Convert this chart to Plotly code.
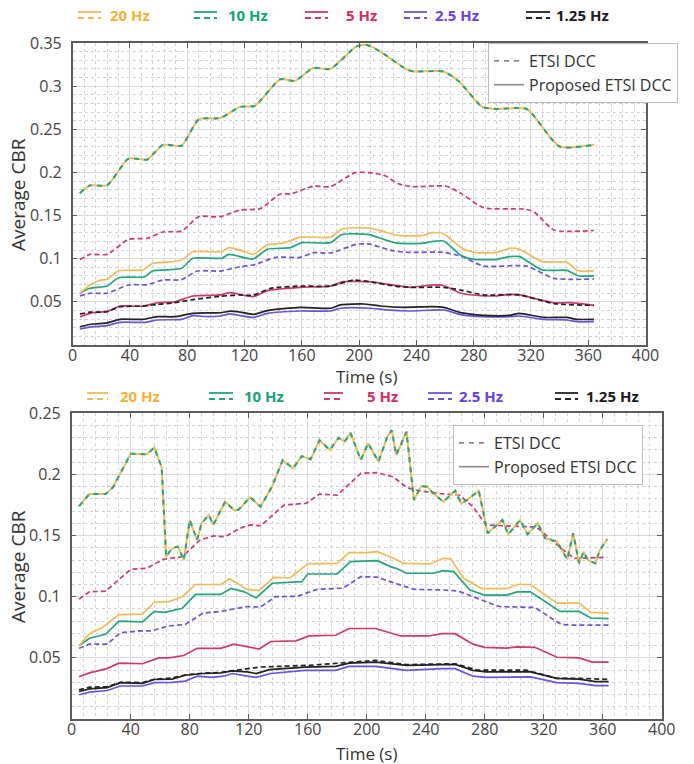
import plotly.graph_objects as go

W, H = 694, 764

# ---------------- data: top panel ----------------
top_etsi_20_10_t = [5, 12, 24, 39, 52, 63, 76, 88, 103, 117, 127, 145, 155, 168, 180, 198, 205, 214, 233, 238, 259, 270, 286, 296, 317, 340, 364]
top_etsi_20_10_v = [0.176, 0.185, 0.185, 0.216, 0.215, 0.232, 0.231, 0.2615, 0.263, 0.276, 0.277, 0.308, 0.306, 0.321, 0.320, 0.346, 0.348, 0.341, 0.3195, 0.317, 0.317, 0.305, 0.276, 0.2735, 0.2735, 0.230, 0.232]

top_etsi_5_t = [5, 12, 24, 39, 52, 63, 76, 88, 103, 117, 131, 145, 152, 168, 180, 197, 207, 217, 228, 237, 261, 271, 287, 315, 322, 336, 364]
top_etsi_5_v = [0.099, 0.105, 0.105, 0.1225, 0.1235, 0.131, 0.132, 0.1487, 0.1487, 0.1565, 0.158, 0.175, 0.175, 0.184, 0.1835, 0.1997, 0.1997, 0.197, 0.1866, 0.1835, 0.184, 0.1758, 0.159, 0.1576, 0.1545, 0.1333, 0.1327]

top_etsi_2p5_t = [5, 12, 24, 39, 52, 63, 76, 87, 103, 117, 126, 142, 159, 168, 180, 198, 207, 224, 236, 259, 271, 287, 317, 336, 364]
top_etsi_2p5_v = [0.057, 0.060, 0.060, 0.0695, 0.070, 0.0753, 0.0757, 0.0857, 0.0857, 0.0908, 0.0927, 0.1016, 0.1016, 0.107, 0.1066, 0.1167, 0.117, 0.109, 0.1074, 0.1074, 0.103, 0.0915, 0.0915, 0.0773, 0.0765]

top_etsi_1p25_t = [5, 12, 24, 33, 49, 59, 71, 84, 103, 117, 126, 138, 159, 180, 196, 207, 226, 236, 259, 271, 287, 312, 336, 364]
top_etsi_1p25_v = [0.036, 0.038, 0.0385, 0.0444, 0.045, 0.047, 0.049, 0.0526, 0.0564, 0.058, 0.0576, 0.0657, 0.0683, 0.0683, 0.0753, 0.0734, 0.068, 0.0668, 0.0668, 0.0637, 0.058, 0.058, 0.048, 0.046]

top_prop_20_t = [5, 12, 19, 24, 32, 49, 56, 66, 76, 84, 104, 109, 119, 126, 136, 147, 159, 180, 188, 207, 218, 227, 245, 250, 259, 271, 280, 296, 305, 312, 328, 345, 353, 364]
top_prop_20_v = [0.060, 0.0695, 0.075, 0.076, 0.086, 0.087, 0.0947, 0.096, 0.0985, 0.108, 0.108, 0.1128, 0.109, 0.105, 0.116, 0.118, 0.125, 0.125, 0.1345, 0.1356, 0.131, 0.127, 0.127, 0.130, 0.129, 0.113, 0.1074, 0.1074, 0.112, 0.111, 0.0966, 0.0958, 0.086, 0.0858]

top_prop_10_t = [5, 12, 24, 32, 50, 56, 66, 76, 84, 104, 109, 119, 126, 136, 152, 160, 180, 188, 207, 217, 227, 245, 250, 259, 271, 280, 296, 305, 312, 328, 345, 353, 364]
top_prop_10_v = [0.060, 0.0657, 0.0684, 0.078, 0.079, 0.086, 0.087, 0.0889, 0.1005, 0.1005, 0.105, 0.1016, 0.0997, 0.111, 0.1128, 0.1186, 0.1186, 0.128, 0.128, 0.1225, 0.118, 0.118, 0.1197, 0.1205, 0.104, 0.0993, 0.0993, 0.1024, 0.1024, 0.0869, 0.0865, 0.0803, 0.080]

top_prop_5_t = [5, 14, 24, 33, 49, 59, 71, 84, 103, 110, 126, 136, 159, 180, 189, 207, 219, 236, 250, 259, 271, 287, 296, 305, 312, 336, 347, 364]
top_prop_5_v = [0.0328, 0.0375, 0.039, 0.045, 0.045, 0.049, 0.050, 0.0568, 0.058, 0.0606, 0.056, 0.063, 0.0668, 0.0683, 0.0734, 0.0734, 0.0707, 0.0668, 0.0695, 0.069, 0.060, 0.057, 0.057, 0.0587, 0.058, 0.049, 0.049, 0.046]

top_prop_1p25_t = [5, 14, 24, 33, 49, 59, 71, 84, 103, 110, 117, 126, 136, 159, 180, 187, 203, 215, 231, 250, 259, 271, 287, 305, 312, 329, 345, 352, 364]
top_prop_1p25_v = [0.0212, 0.0243, 0.0256, 0.0297, 0.0297, 0.0328, 0.0328, 0.0367, 0.0374, 0.0392, 0.038, 0.0355, 0.0398, 0.0437, 0.0426, 0.0464, 0.0475, 0.0452, 0.0437, 0.0444, 0.0437, 0.0375, 0.0344, 0.0344, 0.0367, 0.032, 0.032, 0.0297, 0.0297]

top_prop_2p5_t = [5, 14, 24, 33, 51, 59, 76, 84, 94, 103, 110, 126, 136, 159, 180, 187, 207, 219, 236, 259, 271, 287, 305, 312, 329, 345, 352, 364]
top_prop_2p5_v = [0.0185, 0.0212, 0.0224, 0.0263, 0.0263, 0.029, 0.0297, 0.034, 0.0328, 0.0336, 0.036, 0.032, 0.0367, 0.0394, 0.0394, 0.0426, 0.0426, 0.0406, 0.0394, 0.0406, 0.0352, 0.0328, 0.0328, 0.0336, 0.0297, 0.029, 0.027, 0.027]

# ---------------- data: bottom panel ----------------
bot_etsi_20_10_t = [5, 12, 23, 28, 40, 51, 56, 61, 64, 68, 72, 76, 80, 85, 88, 93, 96, 104, 110, 113, 121, 128, 136, 143, 150, 156, 162, 168, 175, 181, 185, 189, 196, 201, 208, 214, 217, 220, 227, 232, 237, 241, 245, 252, 260, 264, 268, 276, 282, 292, 296, 304, 309, 316, 321, 329, 336, 340, 344, 347, 350, 355, 358, 363]
bot_etsi_20_10_v = [0.174, 0.184, 0.184, 0.1895, 0.217, 0.2165, 0.222, 0.206, 0.1327, 0.1396, 0.141, 0.130, 0.1627, 0.1464, 0.160, 0.1668, 0.1587, 0.1777, 0.171, 0.171, 0.1813, 0.1736, 0.1905, 0.2118, 0.205, 0.215, 0.2124, 0.228, 0.220, 0.230, 0.2268, 0.234, 0.2118, 0.2255, 0.2104, 0.2309, 0.2363, 0.2159, 0.235, 0.179, 0.1905, 0.190, 0.1846, 0.1777, 0.1867, 0.1764, 0.179, 0.1867, 0.1519, 0.1627, 0.151, 0.1627, 0.151, 0.160, 0.1478, 0.145, 0.1306, 0.1519, 0.1273, 0.1368, 0.130, 0.1273, 0.138, 0.147]

bot_etsi_5_t = [5, 12, 23, 40, 51, 62, 75, 87, 96, 104, 114, 121, 128, 144, 159, 168, 180, 196, 207, 218, 227, 232, 252, 263, 272, 281, 293, 315, 324, 336, 341, 363]
bot_etsi_5_v = [0.098, 0.104, 0.1045, 0.1224, 0.1233, 0.1306, 0.1327, 0.1464, 0.1497, 0.149, 0.156, 0.1587, 0.158, 0.175, 0.1764, 0.184, 0.183, 0.2009, 0.2015, 0.198, 0.1895, 0.1873, 0.184, 0.183, 0.1736, 0.1587, 0.158, 0.157, 0.1478, 0.1355, 0.1314, 0.1322]

bot_etsi_2p5_t = [5, 12, 24, 33, 47, 54, 65, 77, 89, 101, 119, 128, 138, 153, 166, 184, 196, 207, 218, 232, 252, 262, 278, 290, 314, 332, 341, 364]
bot_etsi_2p5_v = [0.0578, 0.0612, 0.0612, 0.0706, 0.072, 0.072, 0.076, 0.0773, 0.0866, 0.088, 0.092, 0.0915, 0.100, 0.1003, 0.106, 0.107, 0.1164, 0.116, 0.1115, 0.106, 0.1055, 0.1047, 0.0973, 0.092, 0.0912, 0.0773, 0.0767, 0.0767]

bot_etsi_1p25_t = [5, 12, 24, 33, 48, 56, 68, 77, 89, 101, 109, 128, 161, 188, 206, 227, 251, 260, 275, 308, 329, 345, 364]
bot_etsi_1p25_v = [0.0238, 0.026, 0.0265, 0.030, 0.0298, 0.0325, 0.0335, 0.036, 0.0375, 0.038, 0.0395, 0.0425, 0.0439, 0.0465, 0.0479, 0.0445, 0.0447, 0.0452, 0.040, 0.040, 0.0332, 0.0332, 0.0324]

bot_prop_20_t = [5, 12, 21, 32, 48, 56, 66, 75, 84, 101, 107, 119, 127, 137, 148, 160, 180, 188, 200, 207, 216, 225, 243, 252, 257, 266, 278, 295, 302, 311, 329, 344, 352, 364]
bot_prop_20_v = [0.060, 0.0698, 0.075, 0.0853, 0.0858, 0.0955, 0.096, 0.100, 0.110, 0.110, 0.1147, 0.106, 0.105, 0.1159, 0.1153, 0.1268, 0.1273, 0.136, 0.136, 0.1368, 0.1327, 0.1273, 0.1268, 0.1314, 0.131, 0.1147, 0.1067, 0.1067, 0.110, 0.110, 0.0947, 0.0947, 0.0872, 0.0866]

bot_prop_10_t = [5, 12, 23, 32, 48, 56, 63, 75, 84, 101, 108, 117, 125, 136, 156, 160, 180, 189, 207, 216, 220, 227, 245, 252, 259, 270, 280, 295, 302, 311, 331, 344, 352, 364]
bot_prop_10_v = [0.060, 0.066, 0.0693, 0.080, 0.0794, 0.088, 0.0872, 0.0906, 0.1019, 0.1019, 0.1067, 0.104, 0.099, 0.111, 0.1123, 0.1186, 0.1186, 0.1287, 0.1295, 0.1246, 0.1232, 0.1192, 0.1192, 0.1213, 0.1205, 0.1055, 0.1013, 0.1013, 0.104, 0.104, 0.088, 0.088, 0.0826, 0.0821]

bot_prop_5_t = [5, 12, 24, 32, 48, 59, 66, 76, 85, 101, 110, 119, 127, 135, 152, 161, 179, 188, 206, 223, 242, 251, 260, 272, 280, 295, 302, 314, 329, 344, 353, 364]
bot_prop_5_v = [0.0345, 0.0377, 0.0412, 0.0457, 0.0452, 0.050, 0.050, 0.0519, 0.0578, 0.0578, 0.0612, 0.059, 0.0572, 0.0634, 0.0639, 0.0679, 0.0685, 0.074, 0.074, 0.0679, 0.0679, 0.0698, 0.0698, 0.0612, 0.0586, 0.058, 0.059, 0.0586, 0.0505, 0.050, 0.0465, 0.0465]

bot_prop_1p25_t = [5, 12, 24, 33, 48, 56, 68, 77, 89, 101, 109, 119, 125, 134, 158, 179, 188, 206, 227, 251, 260, 272, 281, 311, 329, 344, 355, 364]
bot_prop_1p25_v = [0.0225, 0.0246, 0.0257, 0.0297, 0.0291, 0.0323, 0.0326, 0.0358, 0.0372, 0.0377, 0.0393, 0.0385, 0.0372, 0.0404, 0.0425, 0.043, 0.0457, 0.0465, 0.0439, 0.0447, 0.0447, 0.0398, 0.0385, 0.0385, 0.0332, 0.0326, 0.0305, 0.0305]

bot_prop_2p5_t = [5, 12, 24, 33, 48, 56, 68, 77, 85, 95, 103, 109, 119, 125, 135, 158, 179, 188, 206, 227, 251, 260, 272, 281, 311, 329, 344, 355, 364]
bot_prop_2p5_v = [0.0198, 0.022, 0.0233, 0.027, 0.027, 0.0297, 0.030, 0.031, 0.035, 0.034, 0.035, 0.0372, 0.035, 0.034, 0.0372, 0.0398, 0.0398, 0.043, 0.043, 0.0398, 0.0412, 0.0412, 0.035, 0.034, 0.0345, 0.0297, 0.0291, 0.0273, 0.0273]

# ---------------- labels ----------------
freq_labels = ["20 Hz", "10 Hz", "5 Hz", "2.5 Hz", "1.25 Hz"]
method_labels = ["ETSI DCC", "Proposed ETSI DCC"]
x_ticks = [0, 40, 80, 120, 160, 200, 240, 280, 320, 360, 400]
y_ticks_top = [0.05, 0.1, 0.15, 0.2, 0.25, 0.3, 0.35]
y_ticks_bot = [0.05, 0.1, 0.15, 0.2, 0.25]

# ---------------- styles ----------------
C_OR = "#f1bb55"
C_GR = "#20a77f"
C_RD = "#d1386c"
C_PU = "#6b52e3"
C_BK = "#222222"
TXT = {"20 Hz": "#f5b236", "10 Hz": "#12a478", "5 Hz": "#dc2a60", "2.5 Hz": "#6640ee", "1.25 Hz": "#1a1a1a"}
LCOL = {"20 Hz": C_OR, "10 Hz": C_GR, "5 Hz": C_RD, "2.5 Hz": C_PU, "1.25 Hz": C_BK}
DASH = "5px,3px"
FONT = "Open Sans"

fig = go.Figure()


def add(t, v, color, dash, ax, width=1.7, shape="linear"):
    xa, ya = ("x", "y") if ax == 1 else ("x2", "y2")
    line = dict(color=color, width=width, dash=dash)
    if shape == "spline":
        line.update(shape="spline", smoothing=0.6)
    fig.add_trace(go.Scatter(x=t, y=v, mode="lines", line=line, xaxis=xa, yaxis=ya,
                             showlegend=False, hoverinfo="skip"))


# top panel
S = "spline"
add(top_prop_2p5_t, top_prop_2p5_v, C_PU, "solid", 1, shape=S)
add(top_prop_1p25_t, top_prop_1p25_v, C_BK, "solid", 1, shape=S)
add(top_prop_5_t, top_prop_5_v, C_RD, "solid", 1, shape=S)
add(top_etsi_1p25_t, top_etsi_1p25_v, C_BK, DASH, 1, shape=S)
add(top_etsi_2p5_t, top_etsi_2p5_v, C_PU, DASH, 1, shape=S)
add(top_prop_10_t, top_prop_10_v, C_GR, "solid", 1, shape=S)
add(top_prop_20_t, top_prop_20_v, C_OR, "solid", 1, shape=S)
add(top_etsi_5_t, top_etsi_5_v, C_RD, DASH, 1, shape=S)
add(top_etsi_20_10_t, top_etsi_20_10_v, C_OR, "solid", 1, width=2, shape=S)
add(top_etsi_20_10_t, top_etsi_20_10_v, C_GR, "5px,5px", 1, width=2, shape=S)

# bottom panel
add(bot_prop_2p5_t, bot_prop_2p5_v, C_PU, "solid", 2)
add(bot_prop_1p25_t, bot_prop_1p25_v, C_BK, "solid", 2)
add(bot_etsi_1p25_t, bot_etsi_1p25_v, C_BK, DASH, 2)
add(bot_prop_5_t, bot_prop_5_v, C_RD, "solid", 2)
add(bot_etsi_2p5_t, bot_etsi_2p5_v, C_PU, DASH, 2)
add(bot_prop_10_t, bot_prop_10_v, C_GR, "solid", 2)
add(bot_prop_20_t, bot_prop_20_v, C_OR, "solid", 2)
add(bot_etsi_5_t, bot_etsi_5_v, C_RD, DASH, 2)
add(bot_etsi_20_10_t, bot_etsi_20_10_v, C_OR, "solid", 2, width=2)
add(bot_etsi_20_10_t, bot_etsi_20_10_v, C_GR, "5px,5px", 2, width=2)

# method legends (boxed)
for lg, xa, ya in (("legend", "x", "y"), ("legend2", "x2", "y2")):
    fig.add_trace(go.Scatter(x=[None], y=[None], mode="lines", name=method_labels[0],
                             line=dict(color="#8a8a8a", width=1.6, dash="5px,5px"),
                             xaxis=xa, yaxis=ya, legend=lg, showlegend=True))
    fig.add_trace(go.Scatter(x=[None], y=[None], mode="lines", name=method_labels[1],
                             line=dict(color="#8a8a8a", width=1.6),
                             xaxis=xa, yaxis=ya, legend=lg, showlegend=True))

AXC = "#5c5c5c"
GRID_MAJ = "#dadada"
GRID_MIN = "#d2d2d2"


def xax(dom, anchor):
    return dict(domain=dom, anchor=anchor, range=[0, 400], tickvals=x_ticks, automargin=False,
                ticklabelstandoff=-5,
                showline=True, linecolor=AXC, linewidth=1.5, mirror="ticks",
                ticks="inside", ticklen=5, tickcolor=AXC,
                showgrid=True, gridcolor=GRID_MAJ, gridwidth=1, zeroline=False,
                tickfont=dict(family=FONT, size=16, color="#444"),
                minor=dict(tick0=0, dtick=8, showgrid=True, gridcolor=GRID_MIN,
                           griddash="dot", gridwidth=1))


def yax(dom, anchor, rng, tv):
    return dict(domain=dom, anchor=anchor, range=rng, tickvals=tv, automargin=False,
                ticktext=[("%g" % t) for t in tv], ticklabelstandoff=6,
                showline=True, linecolor=AXC, linewidth=1.5, mirror="ticks",
                ticks="inside", ticklen=5, tickcolor=AXC,
                showgrid=True, gridcolor=GRID_MAJ, gridwidth=1, zeroline=False,
                tickfont=dict(family=FONT, size=16, color="#444"),
                minor=dict(tick0=0, dtick=0.01, showgrid=True, gridcolor=GRID_MIN,
                           griddash="dot", gridwidth=1))


def px_x(p):
    return p / W


def px_y(p):
    return 1 - p / H


annotations = []
shapes = []

# axis titles
for yc in (195, 567):
    annotations.append(dict(text="Average CBR", x=px_x(18), y=px_y(yc), xref="paper", yref="paper",
                            xanchor="center", yanchor="middle", textangle=-90, showarrow=False,
                            font=dict(family=FONT, size=19, color="#333")))
for yc in (376, 753):
    annotations.append(dict(text="Time (s)", x=px_x(367), y=px_y(yc), xref="paper", yref="paper",
                            xanchor="center", yanchor="middle", showarrow=False,
                            font=dict(family=FONT, size=17, color="#333")))

# frequency legends
top_row = dict(yc=15, items=[(78, 101, 108), (194, 217, 226), (305, 328, 344), (404, 427, 433), (526, 550, 554)])
bot_row = dict(yc=396, items=[(87, 108, 118), (209, 233, 242), (324, 343, 365), (428, 452, 457), (555, 578, 584)])
for row in (top_row, bot_row):
    yc = row["yc"]
    for lab, (s0, s1, tx) in zip(freq_labels, row["items"]):
        col = LCOL[lab]
        shapes.append(dict(type="line", xref="paper", yref="paper", x0=px_x(s0), x1=px_x(s1),
                           y0=px_y(yc - 3), y1=px_y(yc - 3), line=dict(color=col, width=1.8)))
        shapes.append(dict(type="line", xref="paper", yref="paper", x0=px_x(s0), x1=px_x(s1),
                           y0=px_y(yc + 3), y1=px_y(yc + 3), line=dict(color=col, width=1.8, dash="6px,4px")))
        annotations.append(dict(text="<b>%s</b>" % lab, x=px_x(tx), y=px_y(yc), xref="paper", yref="paper",
                                xanchor="left", yanchor="middle", showarrow=False,
                                font=dict(family=FONT, size=15, color=TXT[lab])))

leg_style = dict(xanchor="left", yanchor="top", bgcolor="white", bordercolor="#bdbdbd", borderwidth=1,
                 font=dict(family=FONT, size=16, color="#333"), tracegroupgap=0, itemwidth=30)

fig.update_layout(
    template="none",
    width=W, height=H, margin=dict(l=0, r=0, t=0, b=0, autoexpand=False),
    paper_bgcolor="white", plot_bgcolor="white",
    font=dict(family=FONT, color="#333"),
    xaxis=xax([72.7 / W, 645.5 / W], "y"),
    yaxis=yax([1 - 345 / H, 1 - 43 / H], "x", [0, 0.35], y_ticks_top),
    xaxis2=xax([71.7 / W, 661.7 / W], "y2"),
    yaxis2=yax([1 - 719 / H, 1 - 413.3 / H], "x2", [0, 0.25], y_ticks_bot),
    legend=dict(x=px_x(488), y=px_y(43), **leg_style),
    legend2=dict(x=px_x(453), y=px_y(425), **leg_style),
    annotations=annotations, shapes=shapes,
)

fig.write_html("out.html", config={"displayModeBar": False},
               post_script="document.body.style.margin='0px';")
